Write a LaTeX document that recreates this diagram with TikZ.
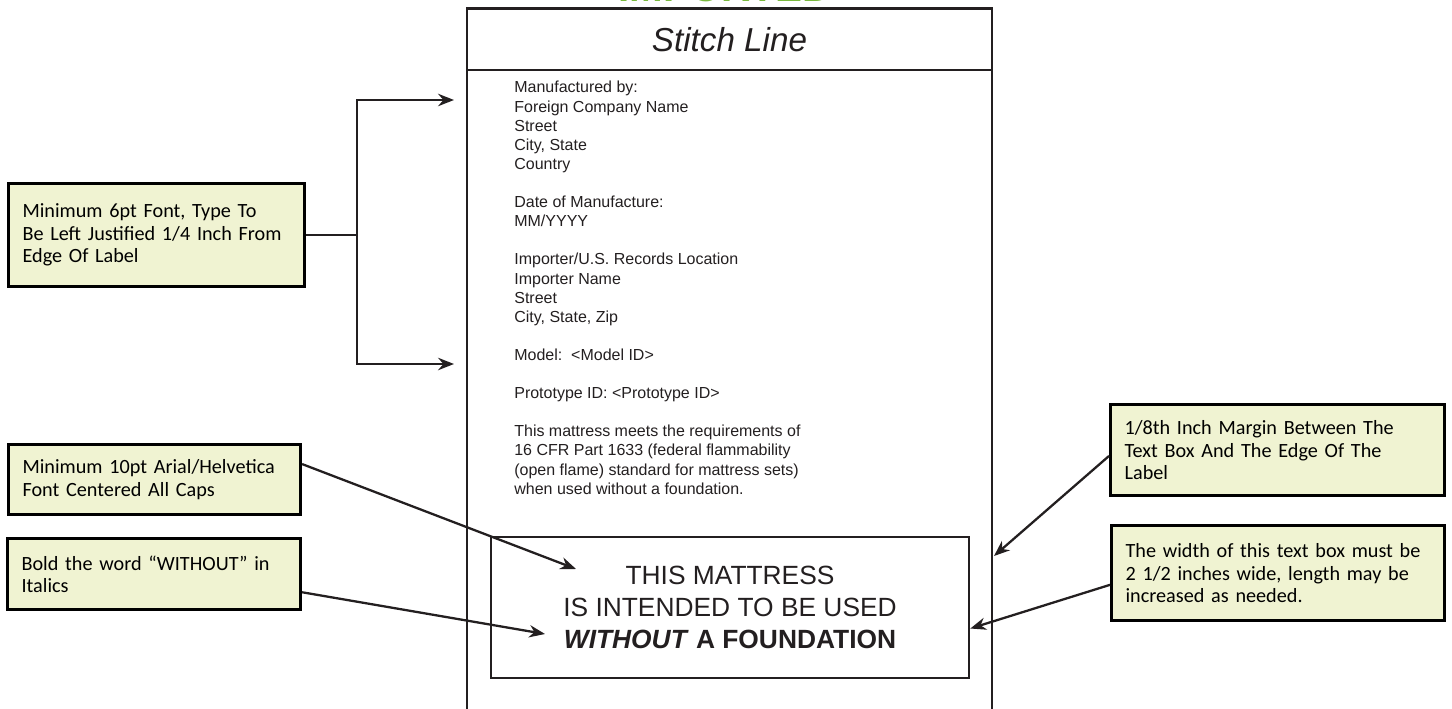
\documentclass[tikz,border=0pt]{standalone}
\usepackage{fontspec}
\setmainfont{Liberation Sans}
\newfontfamily\notefont{Carlito}
\usetikzlibrary{arrows.meta, positioning}
\definecolor{tagdark}{RGB}{35,31,32}
\definecolor{notefill}{RGB}{240,243,210}
\definecolor{impgreen}{RGB}{122,184,62}
\tikzset{
  note/.style={draw=black, fill=notefill, line width=1.8pt, anchor=north west,
    align=left, inner xsep=0.28cm, inner ysep=0pt,
    font=\notefont\fontsize{11.5}{12.8}\selectfont},
  bodyline/.style={anchor=base west, inner sep=0pt,
    font=\fontsize{9.1}{10.8}\selectfont, text=tagdark},
  pointer/.style={-{Stealth[length=9pt, width=7pt]}, line width=1.3pt, color=tagdark},
  tagline/.style={draw=tagdark, line width=1.5pt}
}

\begin{document}
\begin{tikzpicture}[x=0.02cm, y=-0.02cm]
  \useasboundingbox (0,0) rectangle (1452,709);

  % Label outline
  \node[anchor=base, inner sep=0pt, text=impgreen, font=\bfseries\fontsize{23}{23}\selectfont] (imported) at (725,2) {IMPORTED};
  \draw[tagline] (467,730) -- (467,8.5) -- (992,8.5) -- (992,730);
  \draw[tagline] (467,70) -- (992,70);
  \node[font=\itshape\fontsize{18.9}{20}\selectfont, text=tagdark] (title) at (729.5,39.5) {Stitch Line};

  % Label text, one line per row
  \foreach \row/\words in {0/{Manufactured by:}, 1/{Foreign Company Name}, 2/{Street}, 3/{City, State}, 4/{Country},
      6/{Date of Manufacture:}, 7/{MM/YYYY},
      9/{Importer/U.S. Records Location}, 10/{Importer Name}, 11/{Street}, 12/{City, State, Zip},
      14/{Model:\ \ <Model ID>}, 16/{Prototype ID: <Prototype ID>},
      18/{This mattress meets the requirements of}, 19/{16 CFR Part 1633 (federal flammability},
      20/{(open flame) standard for mattress sets)}, 21/{when used without a foundation.}}
    \node[bodyline] (body\row) at (514,{93+19.1*\row}) {\words};

  % Warning box
  \node[tagline, minimum width=9.56cm, minimum height=2.82cm, align=center, text=tagdark,
    font=\fontsize{15}{18.1}\selectfont] (notice) at (730,607.5)
    {THIS MATTRESS\\IS INTENDED TO BE USED\\\textbf{\textit{WITHOUT}} \textbf{A FOUNDATION}};

  % Call-out notes
  \node[note, text width=5.36cm, minimum height=2.06cm] (notejust) at (7,182)
    {Minimum 6pt Font, Type To\\Be Left Justified 1/4 Inch From\\Edge Of Label};
  \node[note, text width=5.28cm, minimum height=1.4cm] (notecaps) at (7,443)
    {Minimum 10pt Arial/Helvetica\\Font Centered All Caps};
  \node[note, text width=5.3cm, minimum height=1.42cm] (notebold) at (6,537)
    {Bold the word “WITHOUT” in\\Italics};
  \node[note, text width=6.12cm, minimum height=1.82cm] (notemargin) at (1109,403)
    {1/8th Inch Margin Between The\\Text Box And The Edge Of The\\Label};
  \node[note, text width=6.1cm, minimum height=1.9cm] (notewidth) at (1110,524)
    {The width of this text box must be\\2 1/2 inches wide, length may be\\increased as needed.};

  % Arrow ends
  \coordinate (forktop) at (357,100);
  \coordinate (forkbot) at (357,364);
  \coordinate (topaim) at (454,100);
  \coordinate (botaim) at (454,364);
  \coordinate (capsaim) at (576,569);
  \coordinate (boldaim) at (545,634);
  \coordinate (edgeaim) at (994,556);

  % Connectors
  \draw[pointer, line width=1.5pt] (notejust.east) -| (forktop) -- (topaim);
  \draw[pointer, line width=1.5pt] (notejust.east) -| (forkbot) -- (botaim);
  \draw[pointer] (notecaps.6) -- (capsaim);
  \draw[pointer] (notebold.-7) -- (boldaim);
  \draw[pointer] (notemargin.182) -- (edgeaim);
  \draw[pointer] (notewidth.184) -- (notice.-5);
\end{tikzpicture}
\end{document}
